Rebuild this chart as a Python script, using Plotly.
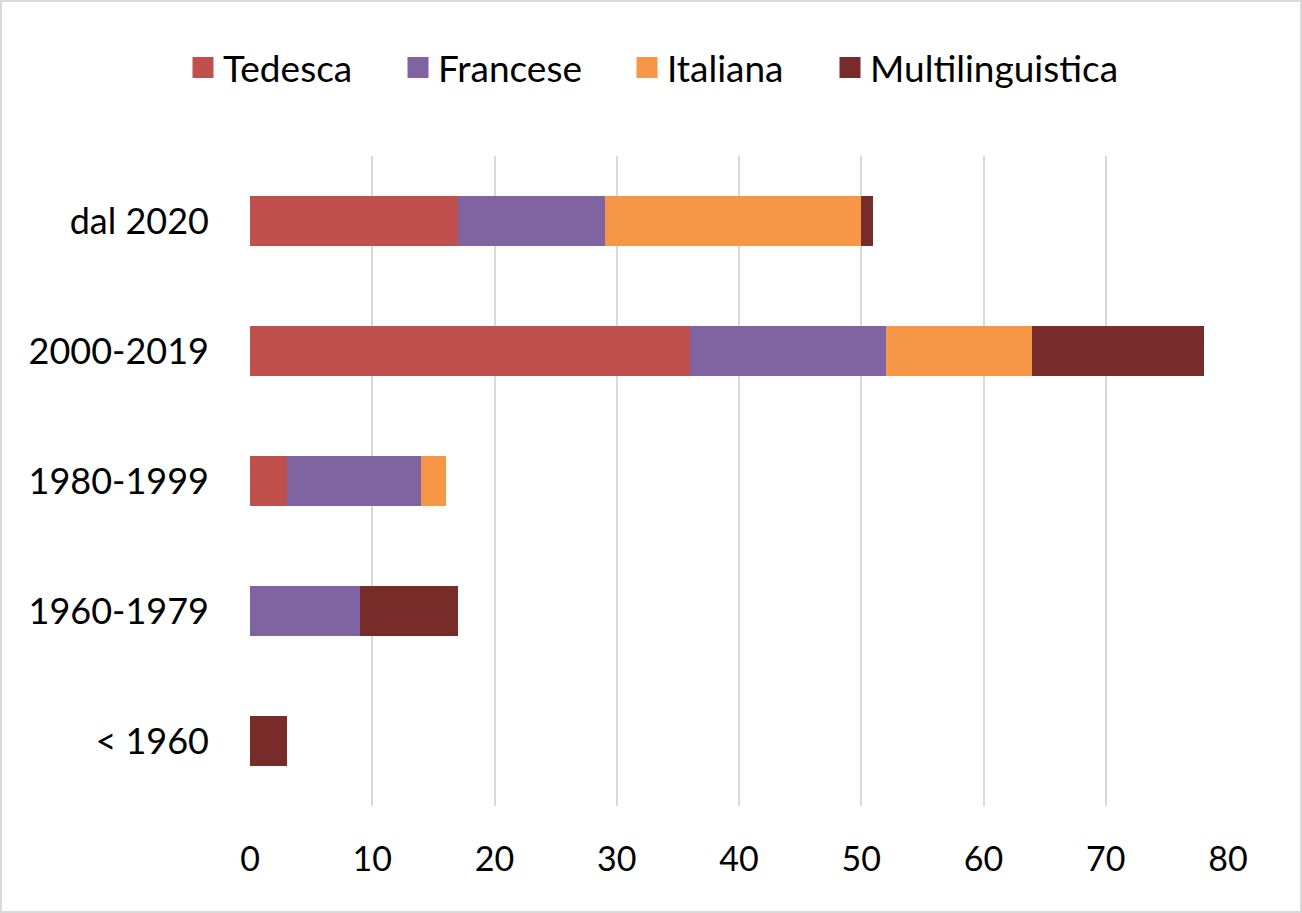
import plotly.graph_objects as go

categories = ["< 1960", "1960-1979", "1980-1999", "2000-2019", "dal 2020"]
tedesca = [0, 0, 3, 36, 17]
francese = [0, 9, 11, 16, 12]
italiana = [0, 0, 2, 12, 21]
multi = [3, 8, 0, 14, 1]
series_names = ["Tedesca", "Francese", "Italiana", "Multilinguistica"]
colors = ["#C0504D", "#8064A2", "#F79646", "#772C2A"]
x_ticks = [0, 10, 20, 30, 40, 50, 60, 70, 80]

W, H = 1302, 913
l, r, t, b = 250, 74, 156, 107
pw, ph = W - l - r, H - t - b

legend_ids = ["legend", "legend2", "legend3", "legend4"]
legend_px = [183, 398, 627, 830]

fig = go.Figure()
for name, vals, col, lid in zip(series_names, [tedesca, francese, italiana, multi], colors, legend_ids):
    fig.add_trace(go.Bar(
        y=categories, x=vals, name=name, orientation="h",
        marker=dict(color=col, line=dict(width=0)),
        legendgroup=name, showlegend=False,
    ))
    fig.add_trace(go.Scatter(
        x=[None], y=[None], mode="markers", name=name, legendgroup=name,
        marker=dict(symbol="square", size=16, color=col, line=dict(color=col, width=5)),
        legend=lid, showlegend=True,
    ))

legend_common = dict(orientation="h", xanchor="left", yanchor="middle",
                      y=1.0 + (156 - 68) / ph, font=dict(size=37),
                      bgcolor="rgba(0,0,0,0)", itemwidth=30)
layout_legends = {}
for lid, px in zip(legend_ids, legend_px):
    layout_legends[lid] = dict(legend_common, x=(px - l) / pw)

fig.update_layout(
    width=W, height=H,
    barmode="stack", bargap=0.615,
    margin=dict(l=l, r=r, t=t, b=b),
    plot_bgcolor="white", paper_bgcolor="white",
    font=dict(family="Lato, Carlito, sans-serif", size=34, color="black"),
    xaxis=dict(range=[0, 80], tickvals=x_ticks, showgrid=True, gridcolor="#D9D9D9",
               gridwidth=2, zeroline=False, showline=False, ticks="",
               ticklabelstandoff=30, tickfont=dict(size=34)),
    yaxis=dict(categoryorder="array", categoryarray=categories, showgrid=False,
               zeroline=False, showline=False, ticks="", ticklabelstandoff=40,
               tickfont=dict(size=36)),
    shapes=[dict(type="rect", xref="paper", yref="paper",
                 x0=(1 - l) / pw, x1=(W - 1 - l) / pw,
                 y0=-(H - 1 - (t + ph)) / ph, y1=(t + ph - 1) / ph,
                 line=dict(color="#D9D9D9", width=2), layer="below")],
    **layout_legends,
)

fig.write_html("out.html", config={"displayModeBar": False},
               post_script="document.body.style.margin='0px';document.body.style.overflow='hidden';")
